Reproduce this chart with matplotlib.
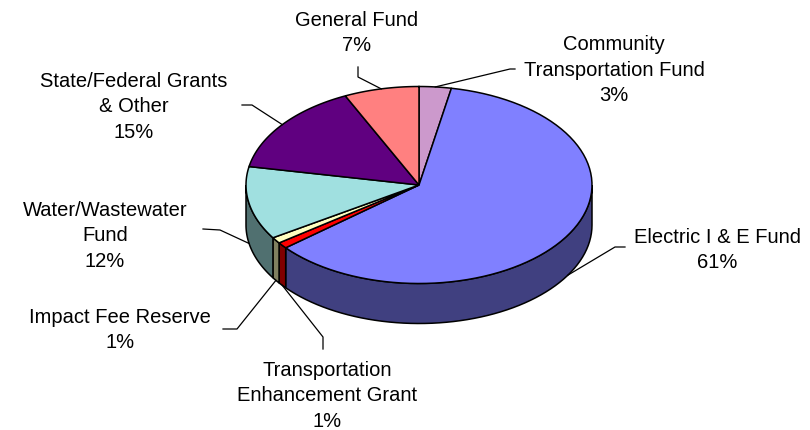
import numpy as np
import matplotlib.pyplot as plt
from matplotlib.patches import Polygon

plt.rcParams['font.family'] = ['Liberation Sans', 'DejaVu Sans']

## data (clockwise from 12 o'clock)
names = ['Community\nTransportation Fund', 'Electric I & E Fund',
         'Transportation\nEnhancement Grant', 'Impact Fee Reserve',
         'Water/Wastewater\nFund', 'State/Federal Grants\n& Other', 'General Fund']
shares = [3, 61, 1, 1, 12, 15, 7]
top_colors = ['#CC99CC', '#8080FF', '#FF0000', '#FFFFC0', '#A0E0E0', '#600080', '#FF8080']
side_colors = ['#664C66', '#404080', '#800000', '#808060', '#507070', '#300040', '#804040']

## layout (pixel coords)
cx, cy, rx, ry, depth = 419, 186, 173, 98.5, 40
label_xy = [(614, 70), (717, 250), (327, 396), (120, 330), (105, 236), (134, 107), (357, 33)]
leader_pts = [[(510, 70), (515, 70)], [(615, 248), (625, 248)], [(323, 338), (323, 350)],
              [(237, 330), (223, 330)], [(220, 231), (203, 230)], [(252, 106), (242, 106)],
              [(358, 78), (358, 68)]]

fig = plt.figure(figsize=(8.1, 4.31), dpi=100)
ax = fig.add_axes([0, 0, 1, 1])
ax.set_xlim(0, 810)
ax.set_ylim(431, 0)
ax.axis('off')


def pt(t, dy=0):
    t = np.radians(t)
    return np.column_stack([cx + rx * np.cos(t), cy - ry * np.sin(t) + dy])


total = float(sum(shares))
starts, ends = [], []
a = 90.0
for s in shares:
    starts.append(a)
    a -= 360.0 * s / total
    ends.append(a)

# outer wall (front half only)
for i in range(len(shares)):
    lo, hi = max(ends[i], -180.0), min(starts[i], 0.0)
    if hi <= lo:
        continue
    t = np.linspace(lo, hi, 60)
    poly = np.vstack([pt(t), pt(t[::-1], depth)])
    ax.add_patch(Polygon(poly, closed=True, facecolor=side_colors[i],
                         edgecolor='black', lw=1.1, zorder=2))

# top faces
for i in range(len(shares)):
    t = np.linspace(ends[i], starts[i], 80)
    poly = np.vstack([[cx, cy], pt(t)])
    ax.add_patch(Polygon(poly, closed=True, facecolor=top_colors[i],
                         edgecolor='black', lw=1.1, zorder=3))

# labels and leader lines
for i in range(len(shares)):
    mid = (starts[i] + ends[i]) / 2
    anchor = pt(np.array([mid]), depth if np.sin(np.radians(mid)) < 0 else 0)[0]
    xs = [anchor[0]] + [p[0] for p in leader_pts[i]]
    ys = [anchor[1]] + [p[1] for p in leader_pts[i]]
    ax.plot(xs, ys, color='black', lw=0.9, zorder=4)
    txt = names[i] + '\n' + '%d%%' % round(100 * shares[i] / total)
    ax.text(label_xy[i][0], label_xy[i][1], txt, ha='center', va='center',
            multialignment='center', fontsize=14.5, linespacing=1.42, color='black')

fig.savefig('out.png', dpi=100)
